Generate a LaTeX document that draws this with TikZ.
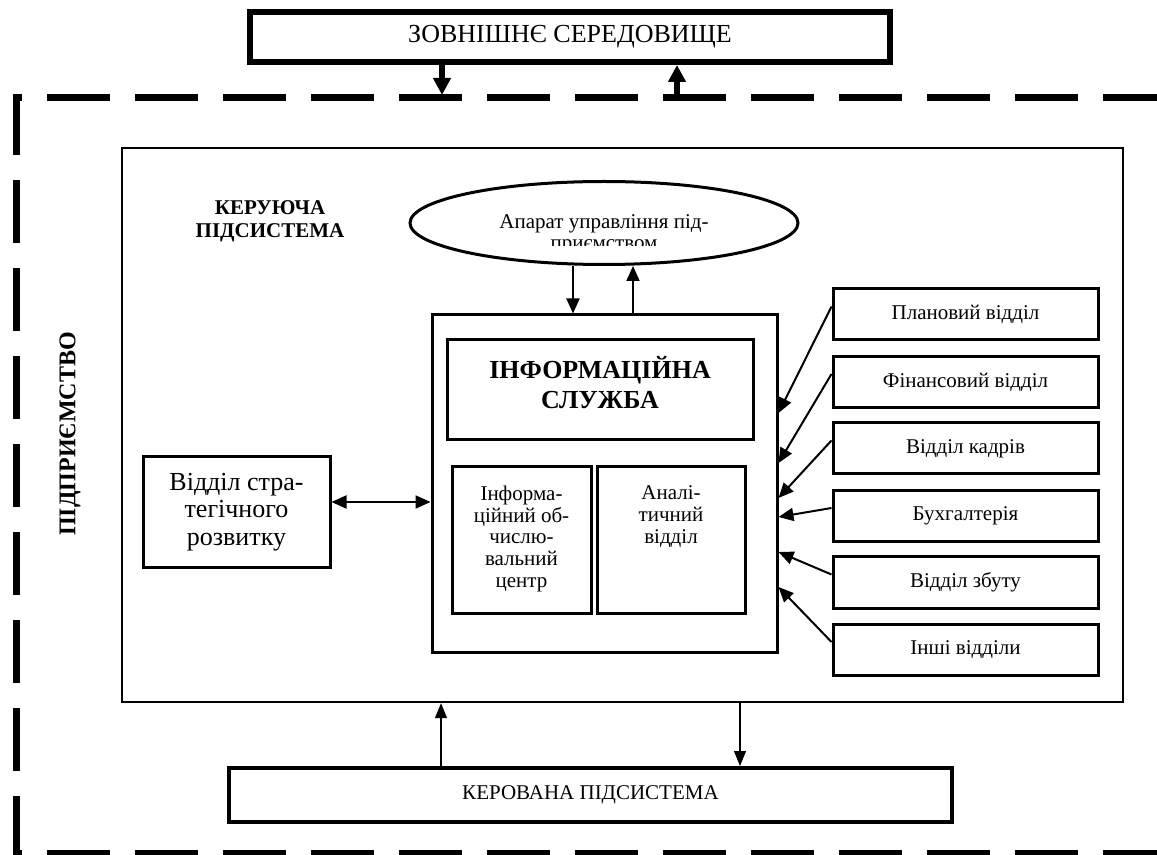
\documentclass[tikz,border=0pt]{standalone}
\usepackage{fontspec}
\setmainfont{Liberation Serif}
\usetikzlibrary{arrows.meta,shapes.geometric}

\begin{document}
\begin{tikzpicture}[x=0.5pt,y=-0.5pt,line width=1pt,>={Triangle[length=7.5pt,width=6.5pt]},
  box/.style={draw,line width=1.5pt,inner sep=0pt},
  dept/.style={box,minimum width=132.5pt,minimum height=25.5pt,font=\fontsize{10.5}{12}\selectfont},
  txt/.style={inner sep=0pt,align=center,font=\fontsize{10.5}{10.85}\selectfont},
  bigarr/.style={line width=3pt,-{Triangle[length=8.5pt,width=8.5pt]}},
  thinarr/.style={line width=0.6pt,-{Triangle[length=7.5pt,width=6pt]}},
  frame/.style={line width=3.5pt,dash pattern=on 31.5pt off 12.5pt}]
\useasboundingbox (0,0) rectangle (1157,855);
\clip (0,0) rectangle (1157,855);
% ---------- outer frame: enterprise ----------
\draw[frame,dash phase=26.75pt] (12.5,98) -- (1180,98);
\draw[frame,dash phase=26.75pt] (12.5,853) -- (1180,853);
\draw[frame,dash phase=1.5pt] (16,95) -- (16,870);
\node[rotate=90,font=\bfseries\fontsize{12}{14}\selectfont] (firm) at (70,434) {ПІДПРИЄМСТВО};
% ---------- top: environment ----------
\node[draw,line width=3pt,minimum width=320pt,minimum height=25pt,
  font=\fontsize{13}{15}\selectfont] (env) at (570,37) {ЗОВНІШНЄ СЕРЕДОВИЩЕ};
\coordinate (dn) at (442,95);
\coordinate (up) at (677,98);
\draw[bigarr] (env.south -| dn) -- (dn);
\draw[bigarr] (up) -- (env.south -| up);
% ---------- control subsystem ----------
\node[draw,line width=1.2pt,minimum width=500.5pt,minimum height=277pt] (ctrl) at (622.5,425) {};
\node[align=center,font=\bfseries\fontsize{10.5}{11.5}\selectfont] (ctrllab) at (270,221)
  {КЕРУЮЧА\\ПІДСИСТЕМА};
% management staff (text is cut at the bottom)
\node[ellipse,draw,line width=1.5pt,minimum width=194pt,minimum height=41.5pt,inner sep=0pt]
  (apparat) at (604,223) {};
\begin{scope}
\clip (400,180) rectangle (810,246);
\node[txt,font=\fontsize{10.5}{10.5}\selectfont] (aptext) at (604,234)
  {Апарат управління під-\\приємством};
\end{scope}
% information service
\node[box,minimum width=172.5pt,minimum height=168.5pt] (info) at (604.5,483.5) {};
\node[box,minimum width=153pt,minimum height=50pt] (serv) at (600,390) {};
\node[align=center,font=\bfseries\fontsize{13}{15}\selectfont] (servtext) at (600,383)
  {ІНФОРМАЦІЙНА\\СЛУЖБА};
\node[box,minimum width=69.5pt,minimum height=73pt] (ivc) at (521.5,540) {};
\node[txt,anchor=north] (ivctext) at (521.5,485)
  {Інформа-\\ційний об-\\числю-\\вальний\\центр};
\node[box,minimum width=74pt,minimum height=73pt] (anal) at (671,540) {};
\node[txt,anchor=north] (analtext) at (671,485) {Аналі-\\тичний\\відділ};
\coordinate (a1) at (573,0);
\coordinate (a2) at (633,0);
\draw[->] (apparat.south -| a1) -- (info.north -| a1);
\draw[->] (info.north -| a2) -- (apparat.south -| a2);
% strategy department
\node[box,minimum width=93.5pt,minimum height=55pt,align=center,
  font=\fontsize{13}{13.75}\selectfont] (strat) at (236.5,512) {Відділ стра-\\тегічного\\розвитку};
\coordinate (sa) at (0,502);
\draw[<->] (strat.east |- sa) -- (info.west |- sa);
% ---------- right: departments ----------
\node[dept] (plan) at (965.5,314.5) {Плановий відділ};
\node[dept] (fin) at (965.5,382) {Фінансовий відділ};
\node[dept] (kadr) at (965.5,448.5) {Відділ кадрів};
\node[dept] (buh) at (965.5,516) {Бухгалтерія};
\node[dept] (zbut) at (965.5,582.5) {Відділ збуту};
\node[dept] (other) at (965.5,650) {Інші відділи};
\coordinate (e1) at (info.east |- 0,413);
\coordinate (e2) at (info.east |- 0,463);
\coordinate (e3) at (info.east |- 0,498);
\coordinate (e4) at (info.east |- 0,517);
\coordinate (e5) at (info.east |- 0,552);
\coordinate (e6) at (info.east |- 0,587);
\draw[->] ([yshift=4pt]plan.west) -- (e1);
\draw[->] ([yshift=4pt]fin.west) -- (e2);
\draw[->] ([yshift=4pt]kadr.west) -- (e3);
\draw[->] ([yshift=4pt]buh.west) -- (e4);
\draw[->] ([yshift=4pt]zbut.west) -- (e5);
\draw[->] ([yshift=4pt]other.west) -- (e6);
% ---------- bottom: managed subsystem ----------
\node[draw,line width=2pt,minimum width=361.5pt,minimum height=27pt,
  font=\fontsize{10.5}{12}\selectfont] (ker) at (590.5,795) {КЕРОВАНА ПІДСИСТЕМА};
\coordinate (k1) at (441,0);
\coordinate (k2) at (740,0);
\draw[thinarr] (ker.north -| k1) -- (ctrl.south -| k1);
\draw[thinarr] (ctrl.south -| k2) -- (ker.north -| k2);
\end{tikzpicture}
\end{document}
